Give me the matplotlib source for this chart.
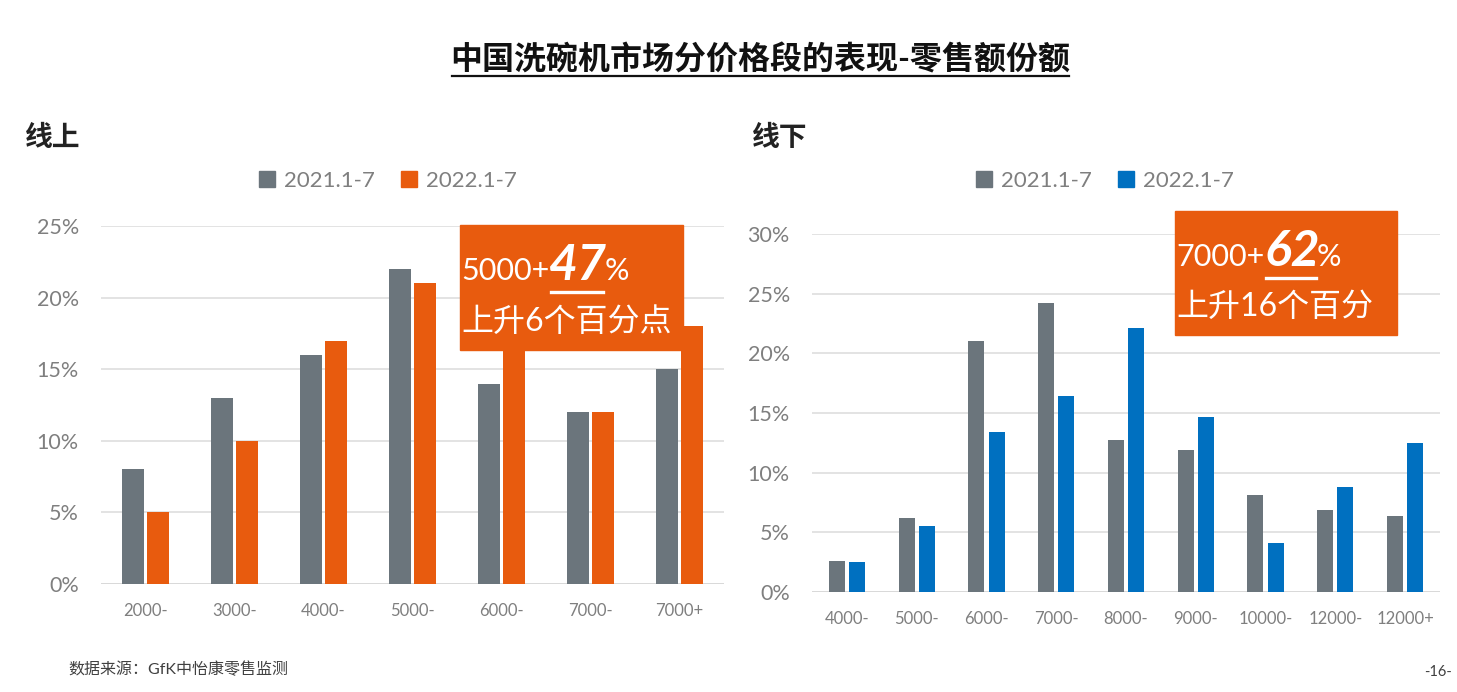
import matplotlib
matplotlib.use("Agg")
import matplotlib.pyplot as plt
import numpy as np
from matplotlib.patches import Rectangle
from matplotlib.lines import Line2D

# ---------------- data ----------------
online_cats = ["2000-", "3000-", "4000-", "5000-", "6000-", "7000-", "7000+"]
online_2021 = [8, 13, 16, 22, 14, 12, 15]
online_2022 = [5, 10, 17, 21, 17, 12, 18]

offline_cats = ["4000-", "5000-", "6000-", "7000-", "8000-", "9000-", "10000-", "12000-", "12000+"]
offline_2021 = [2.6, 6.2, 21.0, 24.2, 12.7, 11.9, 8.1, 6.9, 6.4]
offline_2022 = [2.5, 5.5, 13.4, 16.4, 22.1, 14.7, 4.1, 8.8, 12.5]

series_labels = ["2021.1-7", "2022.1-7"]
left_yticks = [0, 5, 10, 15, 20, 25]
right_yticks = [0, 5, 10, 15, 20, 25, 30]

title = "中国洗碗机市场分价格段的表现-零售额份额"
# ---------------------------------------

W, H = 1457, 692
FAM = ["Lato", "Noto Sans CJK SC", "DejaVu Sans"]
plt.rcParams["font.family"] = FAM

GRAY = "#6b757c"
ORANGE = "#e85b0e"
BLUE = "#0070c0"
TICK = "#7f7f7f"
GRID = "#e3e3e3"

fig = plt.figure(figsize=(W / 100, H / 100), dpi=100)


def fx(x):
    return x / W


def fy(y):
    return 1 - y / H


def make_axes(x0, x1, ytop, ybot):
    return fig.add_axes([fx(x0), fy(ybot), fx(x1) - fx(x0), fy(ytop) - fy(ybot)])


def draw_bars(ax, cats, a, b, color_b, width, off, ymax, yticks):
    x = np.arange(len(cats))
    ax.bar(x - off, a, width, color=GRAY, zorder=3)
    ax.bar(x + off, b, width, color=color_b, zorder=3)
    ax.set_xlim(-0.5, len(cats) - 0.5)
    ax.set_ylim(0, ymax)
    ax.set_yticks(yticks)
    ax.set_yticklabels([f"{t}%" for t in yticks], fontsize=15.5, color=TICK)
    ax.set_xticks(x)
    ax.set_xticklabels(cats, fontsize=12, color=TICK)
    ax.tick_params(axis="both", length=0)
    ax.tick_params(axis="x", pad=14)
    ax.tick_params(axis="y", pad=16)
    ax.grid(axis="y", color=GRID, linewidth=1.4, zorder=0)
    for s in ax.spines.values():
        s.set_visible(False)
    ax.axhline(0, color="#d9d9d9", linewidth=1.4, zorder=2)


# left chart
axL = make_axes(101, 724, 226, 584)
draw_bars(axL, online_cats, online_2021, online_2022, ORANGE, 0.24, 0.14, 25, left_yticks)

# right chart
axR = make_axes(812, 1440, 234, 592)
draw_bars(axR, offline_cats, offline_2021, offline_2022, BLUE, 0.23, 0.145, 30, right_yticks)

# title
fig.text(fx(760), fy(59), title, fontsize=23, fontweight="bold", ha="center", va="center",
         color="#111111")
fig.add_artist(Line2D([fx(452), fx(1069)], [fy(76), fy(76)], color="#111111", linewidth=1.6))

# section labels
fig.text(fx(25), fy(138), "线上", fontsize=20, fontweight="bold", ha="left", va="center", color="#222222")
fig.text(fx(752), fy(138), "线下", fontsize=20, fontweight="bold", ha="left", va="center", color="#222222")


# legends
def legend(ax, cx, color_b):
    handles = [Rectangle((0, 0), 1, 1, color=GRAY), Rectangle((0, 0), 1, 1, color=color_b)]
    ax.legend(handles, series_labels, ncol=2, frameon=False, loc="center",
              bbox_to_anchor=(fx(cx), fy(181)), bbox_transform=fig.transFigure,
              prop={"size": 16}, labelcolor=TICK, handlelength=0.7, handleheight=0.7,
              handletextpad=0.4, columnspacing=1.2)


legend(axL, 388, ORANGE)
legend(axR, 1105, BLUE)

# callout boxes
fig.canvas.draw()
renderer = fig.canvas.get_renderer()


def callout(x0, y0, x1, y1, prefix, big, line2, base_y, line2_y):
    fig.add_artist(Rectangle((fx(x0), fy(y1)), fx(x1) - fx(x0), fy(y0) - fy(y1),
                             transform=fig.transFigure, color=ORANGE, zorder=10))
    t1 = fig.text(fx(x0 + 1), fy(base_y), prefix, fontsize=22, color="white",
                  ha="left", va="baseline", zorder=11)
    bb = t1.get_window_extent(renderer)
    t2 = fig.text(bb.x1 / W, fy(base_y), big, fontsize=36, color="white",
                  fontweight="bold", fontstyle="italic", ha="left", va="baseline", zorder=11)
    bb2 = t2.get_window_extent(renderer)
    fig.text(bb2.x1 / W - 0.002, fy(base_y), "%", fontsize=22, color="white",
             ha="left", va="baseline", zorder=11)
    fig.add_artist(Line2D([bb2.x0 / W + 0.001, bb2.x1 / W - 0.003], [fy(base_y + 12), fy(base_y + 12)],
                          color="white", linewidth=2.4, zorder=12))
    fig.text(fx(x0 + 1), fy(line2_y), line2, fontsize=23, color="white",
             ha="left", va="center", zorder=11)


callout(460, 225, 683, 350, "5000+", "47", "上升6个百分点", 280, 322)
callout(1175, 211, 1397, 335, "7000+", "62", "上升16个百分", 266, 307)

# footer
fig.text(fx(68), fy(669), "数据来源：GfK中怡康零售监测", fontsize=11.5, color="#404040",
         ha="left", va="center")
fig.text(fx(1452), fy(672), "-16-", fontsize=10.5, color="#404040", ha="right", va="center")

fig.savefig("out.png", dpi=100)
